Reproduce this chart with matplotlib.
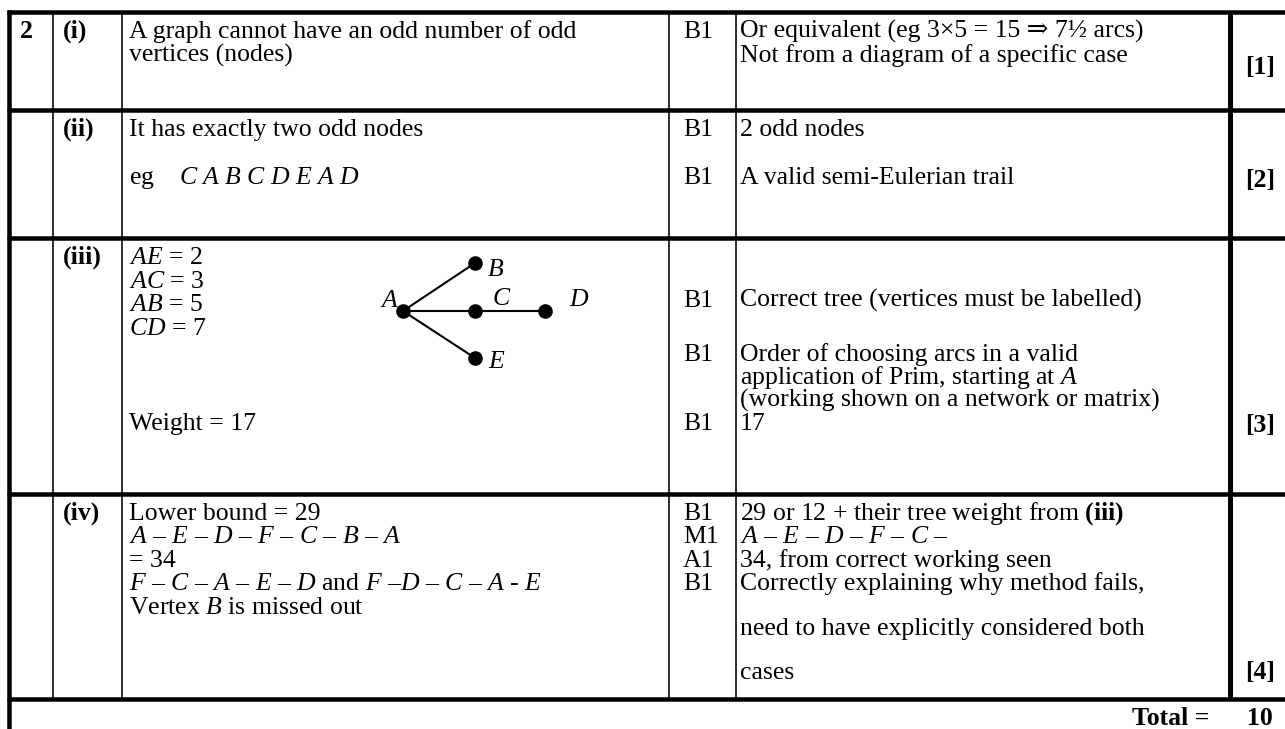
import matplotlib.pyplot as plt

plt.rcParams['font.family'] = ['Liberation Serif', 'DejaVu Serif']
plt.rcParams['mathtext.fontset'] = 'custom'
plt.rcParams['mathtext.rm'] = 'Liberation Serif'
plt.rcParams['mathtext.it'] = 'Liberation Serif:italic'
plt.rcParams['mathtext.bf'] = 'Liberation Serif:bold'
plt.rcParams['mathtext.default'] = 'it'

# ---- table content ----
question = "2"
parts = ["(i)", "(ii)", "(iii)", "(iv)"]

answers_i = ["A graph cannot have an odd number of odd", "vertices (nodes)"]
answers_ii = ["It has exactly two odd nodes", "eg    $C$ $A$ $B$ $C$ $D$ $E$ $A$ $D$"]
answers_iii = ["$AE$ = 2", "$AC$ = 3", "$AB$ = 5", "$CD$ = 7", "Weight = 17"]
answers_iv = ["Lower bound = 29",
              "$A$ – $E$ – $D$ – $F$ – $C$ – $B$ – $A$",
              "= 34",
              "$F$ – $C$ – $A$ – $E$ – $D$ and $F$ –$D$ – $C$ – $A$ - $E$",
              "Vertex $B$ is missed out"]

marks_i = ["B1"]
marks_ii = ["B1", "B1"]
marks_iii = ["B1", "B1", "B1"]
marks_iv = ["B1", "M1", "A1", "B1"]

guidance_i = ["Or equivalent (eg 3×5 = 15 ⇒ 7½ arcs)", "Not from a diagram of a specific case"]
guidance_ii = ["2 odd nodes", "A valid semi-Eulerian trail"]
guidance_iii = ["Correct tree (vertices must be labelled)",
                "Order of choosing arcs in a valid",
                "application of Prim, starting at $A$",
                "(working shown on a network or matrix)",
                "17"]
guidance_iv = ["29 or 12 + their tree weight from $\\mathbf{(iii)}$",
               "$A$ – $E$ – $D$ – $F$ – $C$ –",
               "34, from correct working seen",
               "Correctly explaining why method fails,",
               "need to have explicitly considered both",
               "cases"]

part_totals = ["[1]", "[2]", "[3]", "[4]"]
total_label = "Total ="
total_value = "10"

tree_nodes = ["A", "B", "C", "D", "E"]
tree_edges = [("A", "B"), ("A", "C"), ("C", "D"), ("A", "E")]

# ---- layout (pixel units) ----
W, H = 1285, 729
col_lines = [53, 122, 669, 736]
thick_col = 1230
row_lines = [12, 110, 238, 494, 699]
left_x = 9

x_q, x_part, x_ans, x_mark, x_guid, x_tot = 20, 63, 129, 683, 740, 1245

ans_y = [[38, 62], [136, 184], [264, 288, 311, 335, 430], [520, 543, 567, 590, 614]]
mark_y = [[38], [136, 184], [307, 361, 430], [520, 543, 567, 590]]
guid_y = [[38, 62], [136, 184], [307, 361, 384, 407, 430], [520, 543, 567, 590, 635, 679]]
tot_y = [74, 187, 432, 679]

node_pos = {"A": (403, 311), "B": (475, 263), "C": (475, 311), "D": (545, 311), "E": (475, 358)}
label_pos = {"A": (397, 301, 'right'), "B": (488, 270, 'left'), "C": (493, 299, 'left'),
             "D": (569, 300, 'left'), "E": (488, 362, 'left')}

fs = 18.5
px = 72 / 100

fig = plt.figure(figsize=(W / 100, H / 100), dpi=100)
ax = fig.add_axes([0, 0, 1, 1])
ax.set_xlim(0, W)
ax.set_ylim(H, 0)
ax.axis('off')

# grid lines
for y in row_lines:
    ax.plot([left_x - 2, W], [y, y], color='black', lw=4.5 * px, solid_capstyle='butt')
ax.plot([left_x, left_x], [row_lines[0] - 2, H], color='black', lw=4.5 * px, solid_capstyle='butt')
for x in col_lines:
    ax.plot([x, x], [row_lines[0], row_lines[-1]], color='black', lw=1.6 * px, solid_capstyle='butt')
ax.plot([thick_col, thick_col], [row_lines[0], row_lines[-1]], color='black', lw=5 * px,
        solid_capstyle='butt')

# text
ax.text(x_q, 38, question, fontsize=fs, fontweight='bold', va='baseline')
answers = [answers_i, answers_ii, answers_iii, answers_iv]
marks = [marks_i, marks_ii, marks_iii, marks_iv]
guidance = [guidance_i, guidance_ii, guidance_iii, guidance_iv]
for k in range(len(parts)):
    ax.text(x_part, ans_y[k][0], parts[k], fontsize=fs, fontweight='bold', va='baseline')
    for s, y in zip(answers[k], ans_y[k]):
        ax.text(x_ans, y, s, fontsize=fs, va='baseline')
    for s, y in zip(marks[k], mark_y[k]):
        ax.text(x_mark, y, s, fontsize=fs, va='baseline')
    for s, y in zip(guidance[k], guid_y[k]):
        ax.text(x_guid, y, s, fontsize=fs, va='baseline')
    ax.text(x_tot, tot_y[k], part_totals[k], fontsize=fs, fontweight='bold', va='baseline')

ax.text(1132, 725, total_label, fontsize=fs, fontweight='bold', va='baseline')
ax.text(1247, 725, total_value, fontsize=fs, fontweight='bold', va='baseline')

# tree diagram
for a, b in tree_edges:
    ax.plot([node_pos[a][0], node_pos[b][0]], [node_pos[a][1], node_pos[b][1]],
            color='black', lw=1.5)
for n in tree_nodes:
    ax.plot(node_pos[n][0], node_pos[n][1], 'o', color='black', markersize=9.5)
    lx, ly, ha = label_pos[n]
    ax.text(lx, ly, n, fontsize=fs, fontstyle='italic', ha=ha, va='center')

fig.savefig('out.png', dpi=100)
